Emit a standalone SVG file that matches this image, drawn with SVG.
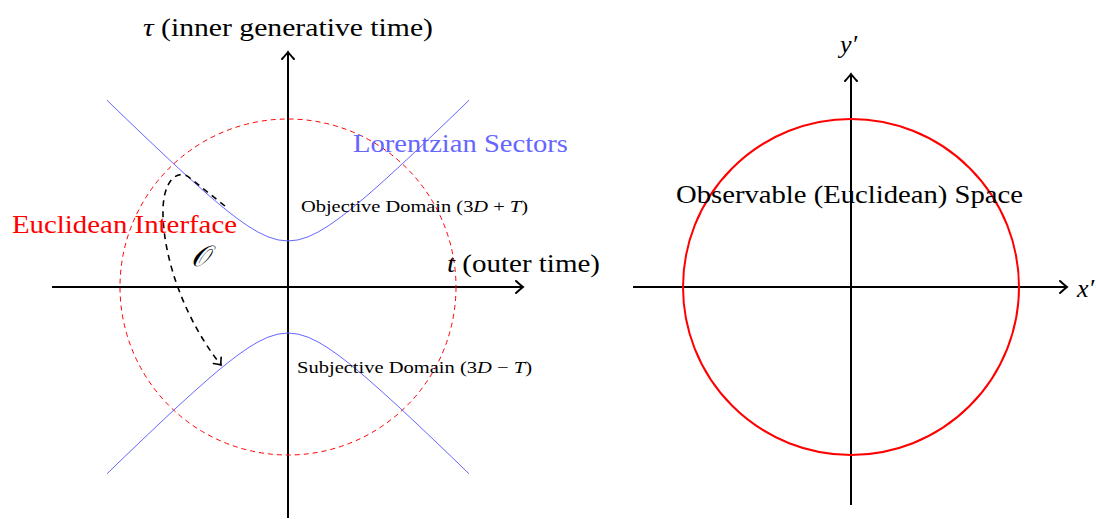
<svg xmlns="http://www.w3.org/2000/svg" width="1096" height="519" viewBox="0 0 1096 519">
<style>
.ax{stroke:#000;stroke-width:2;fill:none}
.hyp{stroke:#6666ff;stroke-width:1;fill:none}
.dc{stroke:#ff0000;stroke-width:1;fill:none;stroke-dasharray:5 4}
.sc{stroke:#ff0000;stroke-width:2;fill:none}
.da{stroke:#000;stroke-width:1.6;fill:none;stroke-dasharray:6 5}
text{font-family:"Liberation Serif","Times New Roman",serif;fill:#000}
.i{font-style:italic}
</style>
<defs>
<marker id="ah" viewBox="-10 -8 12 16" markerWidth="12" markerHeight="16" refX="0" refY="0" orient="auto" markerUnits="userSpaceOnUse">
<path d="M -7 -6 Q -2 -1.5 0 0 Q -2 1.5 -7 6" fill="none" stroke="#000" stroke-width="2" stroke-linecap="round"/>
</marker>
<marker id="ah2" viewBox="-10 -8 12 16" markerWidth="12" markerHeight="16" refX="0" refY="0" orient="auto" markerUnits="userSpaceOnUse">
<path d="M -6 -5 Q -2 -1.2 0 0 Q -2 1.2 -6 5" fill="none" stroke="#000" stroke-width="1.6" stroke-linecap="round"/>
</marker>
</defs>
<g id="connectors">
<line class="ax" x1="52" y1="287" x2="523" y2="287" marker-end="url(#ah)"/>
<line class="ax" x1="288" y1="518" x2="288" y2="52" marker-end="url(#ah)"/>
<line class="ax" x1="633" y1="287" x2="1067" y2="287" marker-end="url(#ah)"/>
<line class="ax" x1="851" y1="505" x2="851" y2="74" marker-end="url(#ah)"/>
</g>
<g id="euclidean-circle"><circle class="dc" cx="288" cy="287" r="168"/></g>
<g id="hyperbolas">
<polyline class="hyp" points="107,100.25 118,110.89 128,120.52 138,130.10 148,139.64 158,149.10 168,158.49 178,167.77 188,176.93 198,185.93 208,194.72 218,203.24 228,211.40 238,219.06 248,226.04 258,232.08 268,236.84 278,239.93 288,241 298,239.93 308,236.84 318,232.08 328,226.04 338,219.06 348,211.40 358,203.24 368,194.72 378,185.93 388,176.93 398,167.77 408,158.49 418,149.10 428,139.64 438,130.10 448,120.52 458,110.89 469,100.25"/>
<polyline class="hyp" points="107,473.75 118,463.11 128,453.48 138,443.90 148,434.36 158,424.90 168,415.51 178,406.23 188,397.07 198,388.07 208,379.28 218,370.76 228,362.60 238,354.94 248,347.96 258,341.92 268,337.16 278,334.07 288,333 298,334.07 308,337.16 318,341.92 328,347.96 338,354.94 348,362.60 358,370.76 368,379.28 378,388.07 388,397.07 398,406.23 408,415.51 418,424.90 428,434.36 438,443.90 448,453.48 458,463.11 469,473.75"/>
</g>
<g id="observer-arrow"><path class="da" d="M225,206 L190,178 C178,168 162,180 163,215 C164,260 185,320 221,365" marker-end="url(#ah2)"/></g>
<g id="observable-circle"><circle class="sc" cx="851" cy="287" r="168"/></g>
<g id="labels">
<text x="143" y="36" font-size="26" textLength="290" lengthAdjust="spacingAndGlyphs"><tspan class="i">τ</tspan> (inner generative time)</text>
<text x="353" y="152" font-size="26" style="fill:#6666ff" textLength="215" lengthAdjust="spacingAndGlyphs">Lorentzian Sectors</text>
<text x="12" y="233" font-size="26" style="fill:#ff0000" textLength="225" lengthAdjust="spacingAndGlyphs">Euclidean Interface</text>
<text x="191" y="266" font-size="29" class="i">𝒪</text>
<text x="301" y="212" font-size="17" textLength="227" lengthAdjust="spacingAndGlyphs">Objective Domain (3<tspan class="i">D</tspan> + <tspan class="i">T</tspan>)</text>
<text x="447" y="272" font-size="26" textLength="153" lengthAdjust="spacingAndGlyphs"><tspan class="i">t</tspan> (outer time)</text>
<text x="297" y="373" font-size="17" textLength="235" lengthAdjust="spacingAndGlyphs">Subjective Domain (3<tspan class="i">D</tspan> − <tspan class="i">T</tspan>)</text>
<text x="676" y="203" font-size="26" textLength="347" lengthAdjust="spacingAndGlyphs">Observable (Euclidean) Space</text>
<text x="840" y="53" font-size="26" class="i">y′</text>
<text x="1077" y="297" font-size="26" class="i">x′</text>
</g>
</svg>
